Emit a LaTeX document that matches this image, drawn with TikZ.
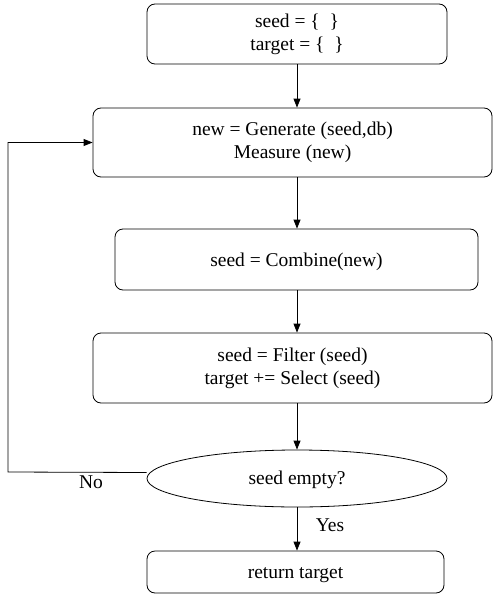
\documentclass[tikz,border=0pt]{standalone}
\usepackage{fontspec}
\setmainfont{Liberation Serif}
\usetikzlibrary{arrows.meta,shapes.geometric}
\begin{document}
\begin{tikzpicture}[x=1pt,y=-1pt,
  every node/.style={font=\fontsize{19.5}{23}\selectfont},
  box/.style={draw,rounded corners=8pt,line width=0.8pt,inner sep=0pt,align=center,
    execute at begin node={\rule{0pt}{17.5pt}}},
  dec/.style={draw,ellipse,line width=0.8pt,inner sep=0pt,
    execute at begin node={\rule{0pt}{16pt}}},
  conn/.style={line width=0.8pt,-{Triangle[length=9pt,width=7pt]}},
  lbl/.style={inner sep=0pt}]
\useasboundingbox (0,0) rectangle (494,594);
\node[box,minimum width=300pt,minimum height=60pt] (b1) at (297,34) {seed = \{\ \ \}\\target = \{\ \ \}};
\node[box,minimum width=399pt,minimum height=69pt] (b2) at (292.5,142.5) {new = Generate (seed,db)\\Measure (new)};
\node[box,minimum width=363pt,minimum height=61pt] (b3) at (296.5,259.5) {seed = Combine(new)};
\node[box,minimum width=399pt,minimum height=70pt] (b4) at (292.5,368) {seed = Filter (seed)\\target += Select (seed)};
\node[dec,minimum width=300pt,minimum height=57pt] (el) at (297,478.5) {seed empty?};
\node[box,minimum width=297pt,minimum height=42pt] (b5) at (295.5,572) {return target};
\coordinate (lp1) at (8,472);
\coordinate (lp2) at (8,142.5);
\draw[conn] (b1.south) -- (b1.south |- b2.north);
\draw[conn] (b1.south |- b2.south) -- (b1.south |- b3.north);
\draw[conn] (b1.south |- b3.south) -- (b1.south |- b4.north);
\draw[conn] (b1.south |- b4.south) -- (el.north);
\draw[conn] (el.south) -- (el.south |- b5.north);
\draw[conn] ([yshift=6pt]el.west) -- (lp1) -- (lp2) -- (b2.west);
\node[lbl] (no) at (91,482) {No};
\node[lbl] (yes) at (330,525) {Yes};
\end{tikzpicture}
\end{document}
